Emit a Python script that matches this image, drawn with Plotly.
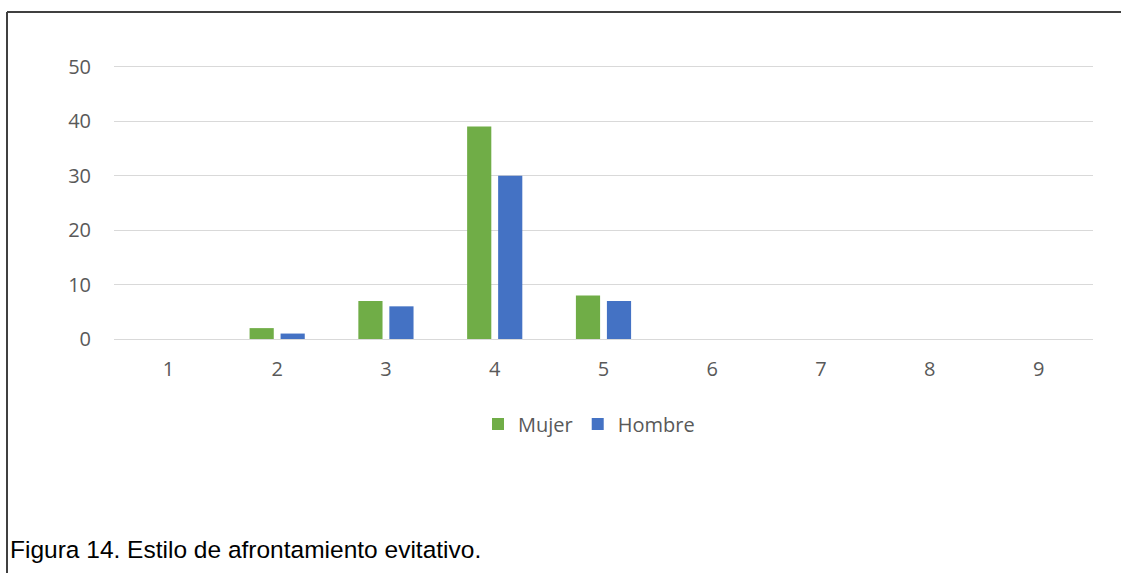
import plotly.graph_objects as go

categorias = ["1", "2", "3", "4", "5", "6", "7", "8", "9"]
mujer = [0, 2, 7, 39, 8, 0, 0, 0, 0]
hombre = [0, 1, 6, 30, 7, 0, 0, 0, 0]

W, H = 1121, 573
L, R, T, B = 114, 28, 64, 234
pw, ph = W - L - R, H - T - B
YMAX = 50.5  # a little headroom so the top gridline at 50 is drawn

def px_x(p):
    return (p - L) / pw

def px_y(q):
    return (H - B - q) / ph

fig = go.Figure()
fig.add_trace(go.Bar(x=categorias, y=mujer, name="Mujer",
                     marker=dict(color="#70AD47", line=dict(width=0))))
fig.add_trace(go.Bar(x=categorias, y=hombre, name="Hombre",
                     marker=dict(color="#4472C4", line=dict(width=0))))

fig.update_layout(
    width=W, height=H,
    margin=dict(l=L, r=R, t=T, b=B, autoexpand=False),
    plot_bgcolor="white", paper_bgcolor="white",
    barmode="group", bargap=0.43, bargroupgap=0.22,
    font=dict(family="Open Sans", size=20, color="#595959"),
    showlegend=True,
    legend=dict(orientation="h", x=px_x(589), xanchor="center",
                y=px_y(424), yanchor="middle",
                font=dict(size=20, color="#595959"),
                traceorder="normal"),
    xaxis=dict(type="category", showgrid=False, zeroline=False,
               showline=False, ticks="", ticklabelstandoff=16,
               tickfont=dict(size=20, color="#595959")),
    yaxis=dict(range=[0, YMAX], tickvals=[0, 10, 20, 30, 40, 50],
               showgrid=True, gridcolor="#d9d9d9",
               gridwidth=1, zeroline=True, zerolinecolor="#d9d9d9",
               zerolinewidth=1, showline=False, ticks="", ticklabelstandoff=22,
               tickfont=dict(size=20, color="#595959")),
    shapes=[
        dict(type="line", xref="paper", yref="paper",
             x0=px_x(7), x1=px_x(W + 10), y0=px_y(12), y1=px_y(12),
             line=dict(color="#404040", width=2)),
        dict(type="line", xref="paper", yref="paper",
             x0=px_x(7), x1=px_x(7), y0=px_y(12), y1=px_y(H + 10),
             line=dict(color="#404040", width=2)),
    ],
    annotations=[
        dict(text="Figura 14. Estilo de afrontamiento evitativo.",
             xref="paper", yref="paper", x=px_x(8), y=px_y(549),
             xanchor="left", yanchor="middle", showarrow=False,
             font=dict(family="Liberation Sans, Arial", size=24.5, color="#000000")),
    ],
)

fig.write_html("out.html")
